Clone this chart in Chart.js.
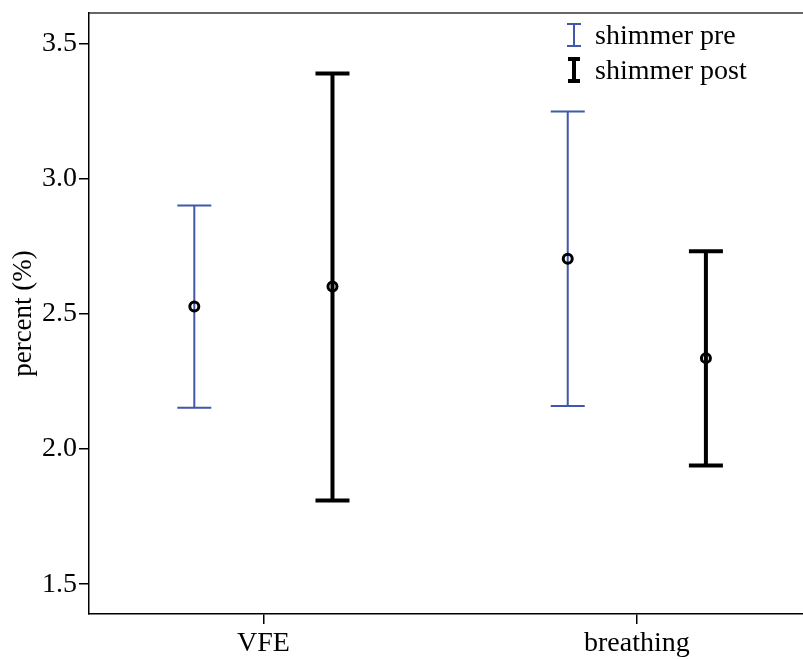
<!DOCTYPE html>
<html>
<head>
<meta charset="utf-8">
<script src="https://cdn.jsdelivr.net/npm/chart.js@4.4.1/dist/chart.umd.min.js"></script>
<style>
  body { margin: 0; background: #fff; }
  #wrap { width: 803px; height: 659px; position: relative; }
</style>
</head>
<body>
<div id="wrap"><canvas id="chart"></canvas></div>
<script>
// data
const categories = ['VFE', 'breathing'];
const seriesNames = ['shimmer pre', 'shimmer post'];
const preMean = [2.527, 2.703];
const preLower = [2.153, 2.159];
const preUpper = [2.900, 3.248];
const postMean = [2.601, 2.336];
const postLower = [1.810, 1.939];
const postUpper = [3.388, 2.731];
const yTicks = [1.5, 2.0, 2.5, 3.0, 3.5];

const blue = '#3f58a9';
const serif = "'Liberation Serif', 'Times New Roman', serif";
const offset = 0.185;

function points(mean, lower, upper, shift) {
    return mean.map(function(m, i) {
        return { x: i + 1 + shift, y: m, lo: lower[i], hi: upper[i] };
    });
}

// draws whiskers + caps under the mean markers
const errorBars = {
    id: 'errorBars',
    beforeDatasetsDraw(chart) {
        const ctx = chart.ctx;
        const x = chart.scales.x, y = chart.scales.y;
        chart.data.datasets.forEach(function(ds) {
            ctx.save();
            ctx.strokeStyle = ds.barColor;
            ctx.lineWidth = ds.barWidth;
            ds.data.forEach(function(p) {
                const px = x.getPixelForValue(p.x);
                const top = y.getPixelForValue(p.hi);
                const bot = y.getPixelForValue(p.lo);
                ctx.beginPath();
                ctx.moveTo(px, top);
                ctx.lineTo(px, bot);
                ctx.moveTo(px - ds.capHalf, top);
                ctx.lineTo(px + ds.capHalf, top);
                ctx.moveTo(px - ds.capHalf, bot);
                ctx.lineTo(px + ds.capHalf, bot);
                ctx.stroke();
            });
            ctx.restore();
        });
    },
    afterDraw(chart) {
        const ctx = chart.ctx;
        const area = chart.chartArea;
        ctx.save();
        // top frame line
        ctx.strokeStyle = '#333';
        ctx.lineWidth = 1.5;
        ctx.beginPath();
        ctx.moveTo(area.left, area.top);
        ctx.lineTo(chart.width, area.top);
        ctx.stroke();

        // legend
        const ix = 574, tx = 595;
        const rows = [35, 70];
        ctx.font = '28px ' + serif;
        ctx.fillStyle = '#000';
        ctx.textBaseline = 'middle';
        chart.data.datasets.forEach(function(ds, i) {
            const cy = rows[i];
            const h = 11;
            const w = ds.barWidth > 2 ? 6 : 7;
            ctx.strokeStyle = ds.barColor;
            ctx.lineWidth = ds.barWidth;
            ctx.beginPath();
            ctx.moveTo(ix, cy - h);
            ctx.lineTo(ix, cy + h);
            ctx.moveTo(ix - w, cy - h);
            ctx.lineTo(ix + w, cy - h);
            ctx.moveTo(ix - w, cy + h);
            ctx.lineTo(ix + w, cy + h);
            ctx.stroke();
            ctx.fillText(ds.label, tx, cy + 2);
        });
        ctx.restore();
    }
};

const ctx = document.getElementById('chart').getContext('2d');
new Chart(ctx, {
    type: 'scatter',
    data: {
        datasets: [{
            label: seriesNames[0],
            data: points(preMean, preLower, preUpper, -offset),
            barColor: blue,
            barWidth: 2,
            capHalf: 17,
            pointRadius: 4.5,
            pointBorderWidth: 3,
            borderColor: '#000',
            backgroundColor: 'rgba(0,0,0,0)'
        }, {
            label: seriesNames[1],
            data: points(postMean, postLower, postUpper, offset),
            barColor: '#000',
            barWidth: 4,
            capHalf: 17,
            pointRadius: 4.5,
            pointBorderWidth: 3,
            borderColor: '#000',
            backgroundColor: 'rgba(0,0,0,0)'
        }]
    },
    options: {
        responsive: true,
        maintainAspectRatio: false,
        animation: false,
        layout: { autoPadding: false, padding: { top: 13, right: 0, left: 0, bottom: 0 } },
        plugins: {
            legend: { display: false },
            tooltip: { enabled: false }
        },
        scales: {
            x: {
                type: 'linear',
                min: 0.533,
                max: 2.445,
                afterBuildTicks: function(scale) {
                    scale.ticks = categories.map(function(c, i) { return { value: i + 1 }; });
                },
                afterFit: function(scale) {
                    scale.height = 45;
                    scale.paddingLeft = 0;
                    scale.paddingRight = 0;
                },
                ticks: {
                    color: '#000',
                    padding: 3,
                    maxRotation: 0,
                    font: { family: serif, size: 28 },
                    callback: function(v) { return categories[v - 1]; }
                },
                grid: { drawOnChartArea: false, drawTicks: true, tickLength: 10, color: '#000', lineWidth: 1.5 },
                border: { display: true, color: '#000', width: 1.5 }
            },
            y: {
                min: 1.39,
                max: 3.612,
                afterBuildTicks: function(scale) {
                    scale.ticks = yTicks.map(function(v) { return { value: v }; });
                },
                afterFit: function(scale) {
                    scale.width = 89;
                    scale.paddingTop = 0;
                    scale.paddingBottom = 0;
                },
                ticks: {
                    color: '#000',
                    padding: 2,
                    font: { family: serif, size: 28 },
                    callback: function(v) { return v.toFixed(1); }
                },
                grid: { drawOnChartArea: false, drawTicks: true, tickLength: 10, color: '#000', lineWidth: 1.5 },
                border: { display: true, color: '#000', width: 1.5 },
                title: {
                    display: true,
                    text: 'percent (%)',
                    color: '#000',
                    padding: { top: 8, bottom: 0 },
                    font: { family: serif, size: 27 }
                }
            }
        }
    },
    plugins: [errorBars]
});
</script>
</body>
</html>
